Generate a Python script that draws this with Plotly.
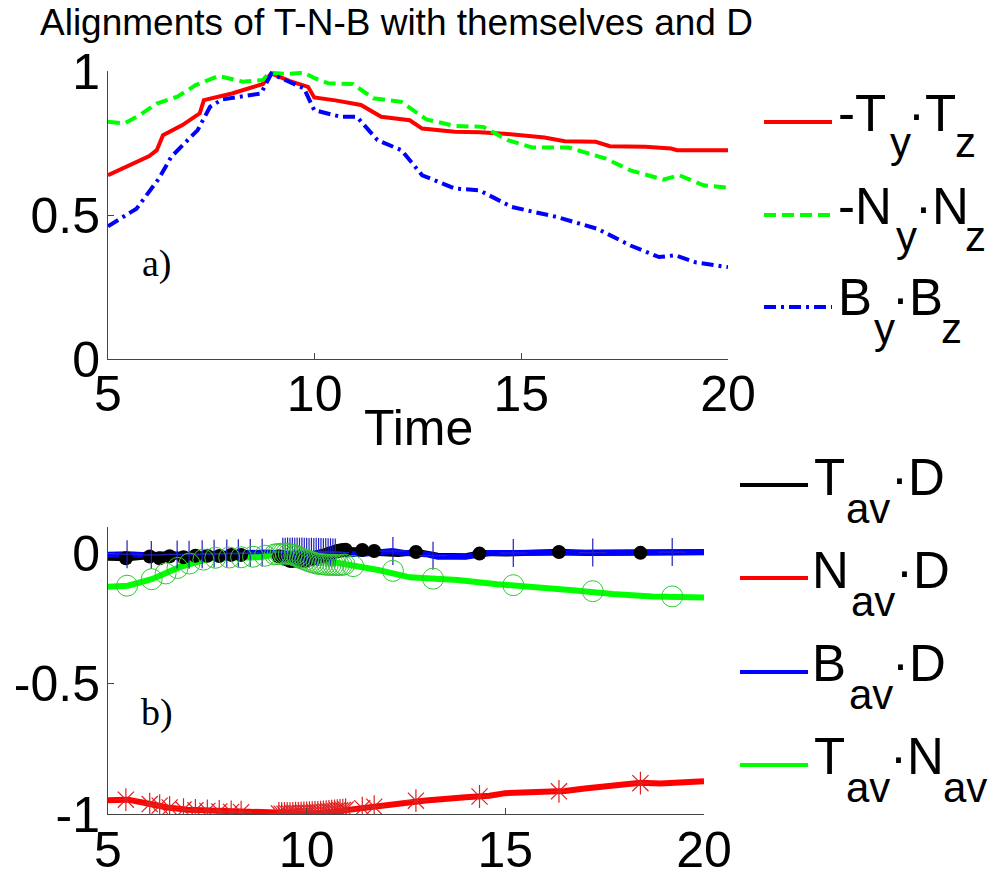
import plotly.graph_objects as go

# ---------------- data: panel a) ----------------
t_TyTz = [5.0, 5.5, 6.0, 6.18, 6.33, 6.8, 7.22, 7.32, 8.0, 8.75, 8.95, 9.4, 9.84, 9.99, 10.5, 11.12, 11.61, 12.3, 12.6, 13.39,
          14.0, 14.67, 15.56, 16.05, 16.8, 17.14, 18.0, 18.62, 18.77, 20.0]
v_TyTz = [0.638, 0.672, 0.705, 0.725, 0.777, 0.812, 0.853, 0.899, 0.922, 0.955, 0.992, 0.965, 0.945, 0.908, 0.898, 0.882, 0.841, 0.829, 0.80, 0.789,
          0.787, 0.781, 0.769, 0.756, 0.754, 0.739, 0.737, 0.731, 0.725, 0.725]

t_NyNz = [5.0, 5.4, 5.8, 6.18, 6.68, 7.12, 7.67, 8.26, 8.75, 8.9, 9.34, 9.74, 10.0, 10.33, 10.92, 11.42, 12.1, 12.7, 13.4, 14.08,
          14.67, 15.27, 16.15, 17.04, 17.64, 18.43, 18.82, 19.41, 20.0]
v_NyNz = [0.824, 0.818, 0.85, 0.887, 0.911, 0.951, 0.983, 0.963, 0.969, 0.994, 0.99, 0.994, 0.975, 0.957, 0.955, 0.905, 0.893, 0.832, 0.809, 0.806,
          0.76, 0.734, 0.734, 0.696, 0.655, 0.623, 0.638, 0.603, 0.595]

t_ByBz = [5.0, 5.69, 6.23, 6.53, 7.17, 7.47, 7.76, 8.7, 8.95, 9.74, 9.99, 10.63, 11.02, 11.52, 12.1, 12.6, 13.39, 13.98, 14.77, 15.86,
          16.84, 17.64, 18.33, 18.72, 19.21, 20.0]
v_ByBz = [0.461, 0.522, 0.626, 0.702, 0.795, 0.876, 0.901, 0.922, 0.99, 0.94, 0.864, 0.841, 0.841, 0.76, 0.725, 0.638, 0.592, 0.586, 0.528, 0.493,
          0.452, 0.394, 0.354, 0.36, 0.336, 0.319]

# ---------------- data: panel b) lines ----------------
t_TD = [5.0, 5.5, 6.0, 6.3, 6.6, 7.0, 7.4, 7.8, 8.2, 8.6, 9.0, 9.5, 10.0, 10.5, 11.0, 11.5, 11.8, 12.3, 12.8, 13.3,
        14.0, 14.4, 15.0, 16.0, 16.4, 17.0, 18.4, 19.0, 20.0]
v_TD = [-0.018, -0.02, -0.012, -0.02, -0.012, -0.016, -0.008, -0.012, -0.006, -0.008, -0.004, -0.01, -0.008, -0.005, 0.012, 0.01, 0.0, -0.003, 0.004, -0.01,
        -0.012, 0.0, -0.002, 0.0, 0.005, 0.0, 0.002, 0.0, 0.003]

t_ND = [5.0, 5.5, 6.0, 6.5, 7.0, 8.0, 9.0, 9.5, 10.0, 10.5, 11.0, 11.5, 12.0, 12.5, 13.0, 14.0, 14.6, 15.0, 16.0, 16.5,
        17.0, 17.5, 18.4, 18.9, 20.0]
v_ND = [-0.947, -0.945, -0.96, -0.975, -0.984, -0.99, -0.996, -0.999, -0.998, -0.994, -0.984, -0.975, -0.965, -0.955, -0.948, -0.936, -0.93, -0.92, -0.917, -0.912,
        -0.902, -0.893, -0.88, -0.883, -0.874]

t_BD = [5.0, 5.5, 6.0, 6.5, 7.0, 7.5, 8.0, 8.5, 9.0, 9.5, 10.0, 10.5, 11.0, 11.5, 12.16, 12.5, 13.0, 13.3, 14.0, 14.6,
        15.5, 16.5, 17.5, 18.5, 20.0]
v_BD = [-0.006, -0.004, -0.008, -0.004, -0.006, -0.003, -0.002, 0.0, 0.002, -0.002, -0.004, -0.003, -0.004, -0.002, 0.008, 0.0, -0.004, -0.014, -0.014, 0.0,
        0.0, 0.003, 0.002, 0.004, 0.004]

t_TN = [5.0, 5.5, 6.1, 6.8, 7.6, 8.8, 9.4, 10.2, 11.0, 11.8, 12.6, 13.8, 14.8, 15.8, 16.7, 17.7, 18.7, 20.0]
v_TN = [-0.129, -0.125, -0.1, -0.054, -0.019, -0.016, -0.001, -0.023, -0.042, -0.065, -0.093, -0.103, -0.119, -0.129, -0.142, -0.157, -0.166, -0.17]

# ---------------- data: panel b) sample markers ----------------
tA_mk = [5.45, 6.05, 6.3, 6.55, 6.9, 7.2, 7.5, 7.8, 8.1, 8.35,
         9.3, 9.37, 9.44, 9.51, 9.58, 9.65, 9.72, 9.79, 9.86, 9.93, 10.0, 10.07, 10.14, 10.21, 10.28, 10.35, 10.42, 10.49,
         10.56, 10.63, 10.7, 10.77, 10.84, 10.91, 10.98,
         11.4, 11.7, 12.75, 14.35, 16.35, 18.4]
vTD_mk = [-0.02, -0.013, -0.02, -0.012, -0.016, -0.01, -0.01, -0.011, -0.007, -0.007,
          -0.012, -0.015, -0.02, -0.025, -0.03, -0.03, -0.028, -0.03, -0.025, -0.03, -0.028, -0.025, -0.02, -0.018, -0.015, -0.012, -0.01, -0.006,
          -0.003, 0.0, 0.004, 0.008, 0.01, 0.012, 0.013,
          0.012, 0.008, 0.004, -0.002, 0.004, 0.001]
vND_mk = [-0.945, -0.962, -0.968, -0.975, -0.983, -0.986, -0.988, -0.99, -0.992, -0.993,
          -0.998, -0.999, -0.999, -0.998, -0.999, -0.998, -0.997, -0.998, -0.997, -0.996, -0.996, -0.995, -0.995, -0.994, -0.994, -0.993, -0.992, -0.991,
          -0.99, -0.989, -0.988, -0.987, -0.986, -0.985, -0.983,
          -0.978, -0.972, -0.949, -0.933, -0.913, -0.882]

tB_mk = [5.48, 6.09, 6.74, 7.04, 7.37, 7.67, 7.99, 8.28, 8.58, 8.88,
         9.4, 9.46, 9.52, 9.58, 9.64, 9.7, 9.76, 9.82, 9.88, 9.94, 10.0, 10.06, 10.12, 10.18, 10.24, 10.3, 10.36, 10.42,
         10.48, 10.54, 10.6, 10.66, 10.72,
         12.17, 13.18, 15.2, 17.2, 19.2]
vBD_mk = [-0.004, -0.007, -0.005, -0.006, -0.004, -0.003, -0.002, -0.001, 0.0, 0.001,
          0.005, 0.005, 0.006, 0.005, 0.006, 0.005, 0.006, 0.005, 0.006, 0.005, 0.005, 0.004, 0.005, 0.004, 0.005, 0.004, 0.004, 0.003,
          0.004, 0.003, 0.003, 0.002, 0.002,
          0.008, -0.01, 0.0, 0.002, 0.004]

tG_mk = [5.48, 6.1, 6.45, 6.75, 7.05, 7.4, 7.7, 8.05, 8.35, 8.65, 8.95,
         9.2, 9.27, 9.34, 9.41, 9.48, 9.55, 9.62, 9.69, 9.76, 9.83, 9.9, 9.97,
         10.04, 10.11, 10.18, 10.25, 10.32, 10.39, 10.46, 10.53, 10.6, 10.67, 10.74, 10.81, 10.88, 10.95,
         11.17, 12.17, 13.18, 15.2, 17.2, 19.2]
vTN_mk = [-0.125, -0.1, -0.078, -0.057, -0.04, -0.025, -0.018, -0.017, -0.016, -0.014, -0.01,
          -0.005, -0.004, -0.003, -0.002, -0.002, -0.003, -0.005, -0.008, -0.012, -0.018, -0.022, -0.026,
          -0.03, -0.034, -0.037, -0.04, -0.042, -0.043, -0.044, -0.045, -0.045, -0.045, -0.046, -0.046, -0.045, -0.044,
          -0.05, -0.068, -0.098, -0.123, -0.146, -0.166]

# ---------------- text ----------------
title_text = "Alignments of T-N-B with themselves and D"
xa_title = "Time"
x_ticks = [5, 10, 15, 20]
ya_ticks = [0, 0.5, 1]
ya_ticktext = ["0", "0.5", "1"]
yb_ticks = [-1, -0.5, 0]
yb_ticktext = ["-1", "-0.5", "0"]

W, H = 993, 880
SANS = "Liberation Sans, Arial, sans-serif"
SERIF = "Liberation Serif, Times New Roman, serif"
RED, GREEN, BLUE, BLACK = "#ff0000", "#00ff00", "#0000ff", "#000000"


def px(x):
    return x / W


def py(y):
    return 1 - y / H


fig = go.Figure()

# panel a)
fig.add_trace(go.Scatter(x=t_TyTz, y=v_TyTz, mode="lines", line=dict(color=RED, width=4), xaxis="x", yaxis="y"))
fig.add_trace(go.Scatter(x=t_NyNz, y=v_NyNz, mode="lines", line=dict(color=GREEN, width=4, dash="12px,6px"), xaxis="x", yaxis="y"))
fig.add_trace(go.Scatter(x=t_ByBz, y=v_ByBz, mode="lines", line=dict(color=BLUE, width=4, dash="12px,5px,3px,5px"), xaxis="x", yaxis="y"))

# panel b) lines
fig.add_trace(go.Scatter(x=t_TD, y=v_TD, mode="lines", line=dict(color=BLACK, width=6), xaxis="x2", yaxis="y2"))
fig.add_trace(go.Scatter(x=t_ND, y=v_ND, mode="lines", line=dict(color=RED, width=6), xaxis="x2", yaxis="y2"))
fig.add_trace(go.Scatter(x=t_BD, y=v_BD, mode="lines", line=dict(color=BLUE, width=6), xaxis="x2", yaxis="y2"))
fig.add_trace(go.Scatter(x=t_TN, y=v_TN, mode="lines", line=dict(color=GREEN, width=6), xaxis="x2", yaxis="y2"))

# panel b) sample markers
fig.add_trace(go.Scatter(x=tA_mk, y=vTD_mk, mode="markers", marker=dict(symbol="circle", size=14, color=BLACK), xaxis="x2", yaxis="y2"))
fig.add_trace(go.Scatter(x=tA_mk, y=vND_mk, mode="markers",
                         marker=dict(symbol="asterisk-open", size=19, color="#e02020", line=dict(width=1.2, color="#e02020")),
                         xaxis="x2", yaxis="y2"))
fig.add_trace(go.Scatter(x=tB_mk, y=vBD_mk, mode="markers",
                         marker=dict(symbol="cross-thin-open", size=20, color="#2020c0", line=dict(width=1.2, color="#2020c0")),
                         xaxis="x2", yaxis="y2"))
fig.add_trace(go.Scatter(x=tG_mk, y=vTN_mk, mode="markers",
                         marker=dict(symbol="circle-open", size=21, color="#33c833", line=dict(width=1, color="#33c833")),
                         xaxis="x2", yaxis="y2"))

axis_common = dict(showgrid=False, zeroline=False, showline=True, linecolor="#444444", linewidth=1,
                   ticks="inside", ticklen=6, tickcolor="#444444", mirror=False, automargin=False,
                   tickfont=dict(family=SANS, size=50, color="black"))

fig.update_layout(
    width=W, height=H, margin=dict(l=0, r=0, t=0, b=0, autoexpand=False),
    paper_bgcolor="white", plot_bgcolor="white", showlegend=False,
    xaxis=dict(domain=[px(108), px(728)], range=[5, 20], tickvals=x_ticks, anchor="y", ticklabelstandoff=-9, **axis_common),
    yaxis=dict(domain=[py(359), py(71)], range=[0, 1], tickvals=ya_ticks, ticktext=ya_ticktext, anchor="x", ticklabelstandoff=-3, **axis_common),
    xaxis2=dict(domain=[px(108), px(704)], range=[5, 20], tickvals=x_ticks, anchor="y2", ticklabelstandoff=-8, **axis_common),
    yaxis2=dict(domain=[py(814), py(527)], range=[-1, 0.1], tickvals=yb_ticks, ticktext=yb_ticktext, anchor="x2", ticklabelstandoff=-3, **axis_common),
)

ann = []
ann.append(dict(text=title_text, x=px(38), y=py(22), xref="paper", yref="paper", xanchor="left", yanchor="middle",
                showarrow=False, font=dict(family=SANS, size=37, color="black")))
ann.append(dict(text=xa_title, x=px(418), y=py(428), xref="paper", yref="paper", xanchor="center", yanchor="middle",
                showarrow=False, font=dict(family=SANS, size=50, color="black")))
ann.append(dict(text="a)", x=px(157), y=py(263), xref="paper", yref="paper", xanchor="center", yanchor="middle",
                showarrow=False, font=dict(family=SERIF, size=38, color="black")))
ann.append(dict(text="b)", x=px(157), y=py(712), xref="paper", yref="paper", xanchor="center", yanchor="middle",
                showarrow=False, font=dict(family=SERIF, size=38, color="black")))

# legend text pieces: (text, left_x, center_y, size)
BIG, SUB = 51, 42
legend_pieces = [
    ("-T", 838, 113.5, BIG), ("y", 890, 142, SUB), ("·T", 908, 113.5, BIG), ("z", 955, 142, SUB),
    ("-N", 838, 206, BIG), ("y", 896, 236, SUB), ("·N", 915, 206, BIG), ("z", 965, 236, SUB),
    ("B", 838, 297.5, BIG), ("y", 874, 328, SUB), ("·B", 892, 297.5, BIG), ("z", 941, 328, SUB),
    ("T", 814, 477.5, BIG), ("av", 846, 508.5, SUB), ("·D", 891, 477.5, BIG),
    ("N", 812, 570, BIG), ("av", 851, 601.5, SUB), ("·D", 896, 570, BIG),
    ("B", 812, 663.5, BIG), ("av", 849, 694.5, SUB), ("·D", 892, 663.5, BIG),
    ("T", 814, 756.5, BIG), ("av", 846, 787.5, SUB), ("·N", 890, 756.5, BIG), ("av", 943, 787.5, SUB),
]
for txt, lx, cy, sz in legend_pieces:
    ann.append(dict(text=txt, x=px(lx), y=py(cy), xref="paper", yref="paper", xanchor="left", yanchor="middle",
                    showarrow=False, borderpad=0, borderwidth=0, font=dict(family=SANS, size=sz, color="black")))
fig.update_layout(annotations=ann)

# legend sample lines
legend_lines = [
    (764, 832, 122, RED, "solid"), (764, 832, 215, GREEN, "12px,6px"), (764, 832, 307, BLUE, "12px,5px,3px,5px"),
    (740, 808, 485, BLACK, "solid"), (740, 808, 578, RED, "solid"), (740, 808, 672, BLUE, "solid"), (740, 808, 765, GREEN, "solid"),
]
for x0, x1, yy, col, dsh in legend_lines:
    fig.add_shape(type="line", xref="paper", yref="paper", x0=px(x0), x1=px(x1), y0=py(yy), y1=py(yy),
                  line=dict(color=col, width=4, dash=dsh))

fig.write_html("out.html")
